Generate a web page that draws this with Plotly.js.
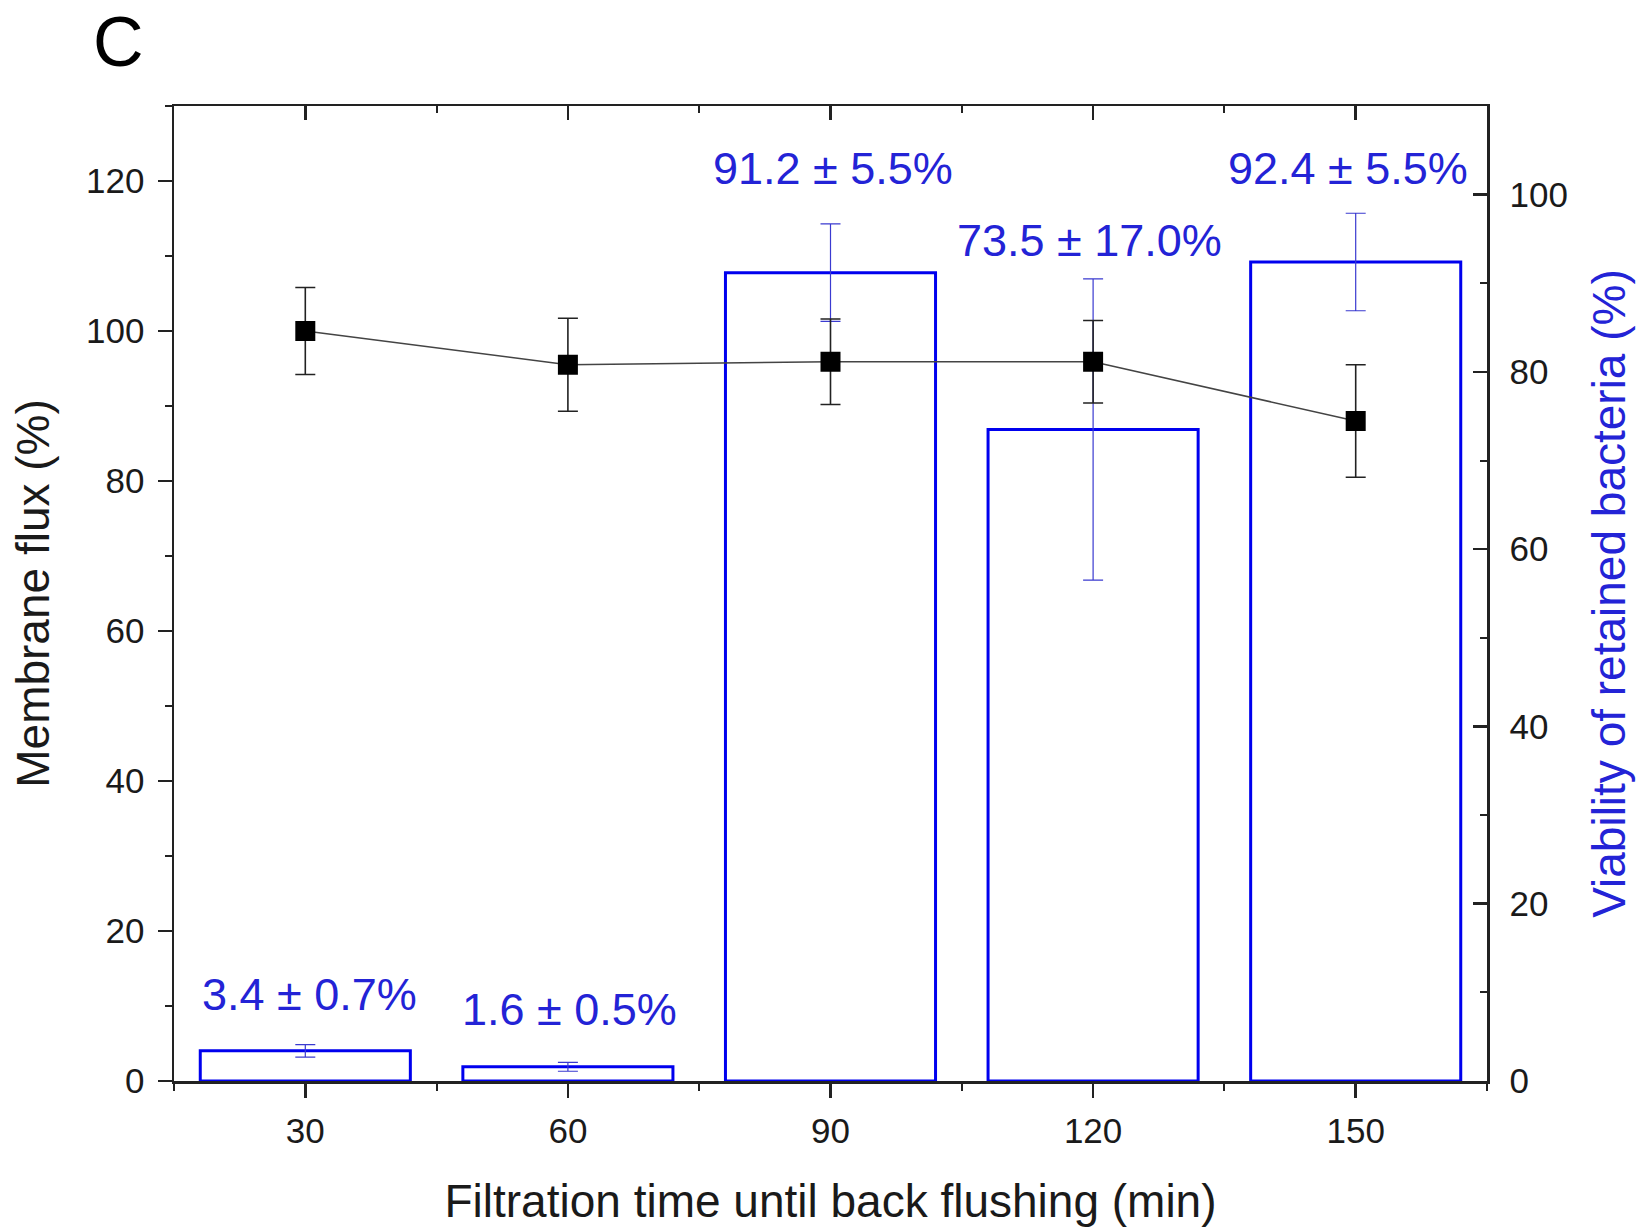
<!DOCTYPE html>
<html>
<head>
<meta charset="utf-8">
<script src="https://cdn.plot.ly/plotly-3.0.1.min.js"></script>
<style>html,body{margin:0;padding:0;background:#fff;}#chart{width:1652px;height:1230px;}</style>
</head>
<body>
<div id="chart"></div>
<script>
// ---- data ----
const filtrationTime = [30, 60, 90, 120, 150];               // min
const membraneFlux = [100.0, 95.5, 95.9, 95.9, 88.0];        // %
const membraneFluxErr = [5.8, 6.2, 5.7, 5.5, 7.5];           // %
const viability = [3.4, 1.6, 91.2, 73.5, 92.4];              // %
const viabilityErr = [0.7, 0.5, 5.5, 17.0, 5.5];             // %
const xTickVals = [30, 60, 90, 120, 150];
const fluxTickVals = [0, 20, 40, 60, 80, 100, 120];
const viabTickVals = [0, 20, 40, 60, 80, 100];

const BLUE = '#0000ee';
const TEXTBLUE = '#2323d6';
const INK = '#1a1a1a';
const FONT = 'Liberation Sans, Arial, Helvetica, sans-serif';

const bars = {
  type: 'bar',
  x: filtrationTime,
  y: viability,
  xaxis: 'x', yaxis: 'y',
  width: 24,
  marker: {color: 'rgba(255,255,255,0)', line: {color: BLUE, width: 3}},
  error_y: {type: 'data', array: viabilityErr, visible: true, color: '#3a3ad0', thickness: 1.2, width: 10},
  hoverinfo: 'skip'
};

const flux = {
  type: 'scatter',
  mode: 'lines+markers',
  x: filtrationTime,
  y: membraneFlux,
  xaxis: 'x2', yaxis: 'y2',
  line: {color: '#444', width: 1.5},
  marker: {symbol: 'square', size: 20, color: '#000'},
  error_y: {type: 'data', array: membraneFluxErr, visible: true, color: '#222', thickness: 1.6, width: 10}
};

// label placement (layout only, in right-axis units / pixel shifts)
const labelYPos = [9.8, 8.1, 103.0, 94.8, 103.0];
const labelXShift = [4, 2, 2, -4, -8];
const annotations = filtrationTime.map((t, i) => ({
  x: t, y: labelYPos[i],
  xref: 'x', yref: 'y', xshift: labelXShift[i],
  text: viability[i].toFixed(1) + ' \u00b1 ' + viabilityErr[i].toFixed(1) + '%',
  showarrow: false, xanchor: 'center', yanchor: 'middle',
  font: {family: FONT, size: 45, color: TEXTBLUE}
}));
annotations.push({
  x: -0.042, y: 1.066, xref: 'paper', yref: 'paper',
  text: 'C', showarrow: false, xanchor: 'center', yanchor: 'middle',
  font: {family: FONT, size: 70, color: '#000'}
});

const axCommon = {
  showgrid: false, zeroline: false, showline: true,
  linecolor: '#222', linewidth: 2.5, tickcolor: '#222', tickwidth: 2.5,
  tickfont: {family: FONT, size: 35, color: INK}
};

const layout = {
  width: 1652, height: 1230,
  margin: {l: 174, r: 165, t: 106, b: 149, pad: 0},
  paper_bgcolor: '#fff', plot_bgcolor: '#fff',
  showlegend: false,
  font: {family: FONT, color: INK},
  xaxis: Object.assign({}, axCommon, {
    range: [15, 165], side: 'bottom', anchor: 'y',
    tickvals: xTickVals, ticks: 'outside', ticklen: 14,
    ticklabelstandoff: 3,
    minor: {tickvals: [15, 45, 75, 105, 135, 165], ticks: 'outside', ticklen: 7, tickwidth: 2, tickcolor: '#222'},
    title: {text: 'Filtration time until back flushing (min)', font: {family: FONT, size: 46, color: INK}, standoff: 37}
  }),
  xaxis2: Object.assign({}, axCommon, {
    range: [15, 165], side: 'top', overlaying: 'x', anchor: 'y2',
    tickvals: xTickVals, ticks: 'inside', ticklen: 14, showticklabels: false,
    minor: {tickvals: [15, 45, 75, 105, 135, 165], ticks: 'inside', ticklen: 7, tickwidth: 2, tickcolor: '#222'}
  }),
  yaxis: Object.assign({}, axCommon, {
    range: [0, 110], side: 'right', anchor: 'x',
    tickvals: viabTickVals, ticks: 'inside', ticklen: 14,
    ticklabelstandoff: 13,
    minor: {dtick: 10, ticks: 'inside', ticklen: 7, tickwidth: 2, tickcolor: '#222'},
    title: {text: 'Viability of retained bacteria (%)', font: {family: FONT, size: 46, color: TEXTBLUE}, standoff: 26}
  }),
  yaxis2: Object.assign({}, axCommon, {
    range: [0, 130], side: 'left', overlaying: 'y', anchor: 'x2',
    tickvals: fluxTickVals, ticks: 'outside', ticklen: 14,
    ticklabelstandoff: 6,
    minor: {dtick: 10, ticks: 'outside', ticklen: 7, tickwidth: 2, tickcolor: '#222'},
    title: {text: 'Membrane flux (%)', font: {family: FONT, size: 46, color: INK}, standoff: 22}
  }),
  annotations: annotations
};

Plotly.newPlot('chart', [bars, flux], layout, {displayModeBar: false, staticPlot: true});
</script>
</body>
</html>
